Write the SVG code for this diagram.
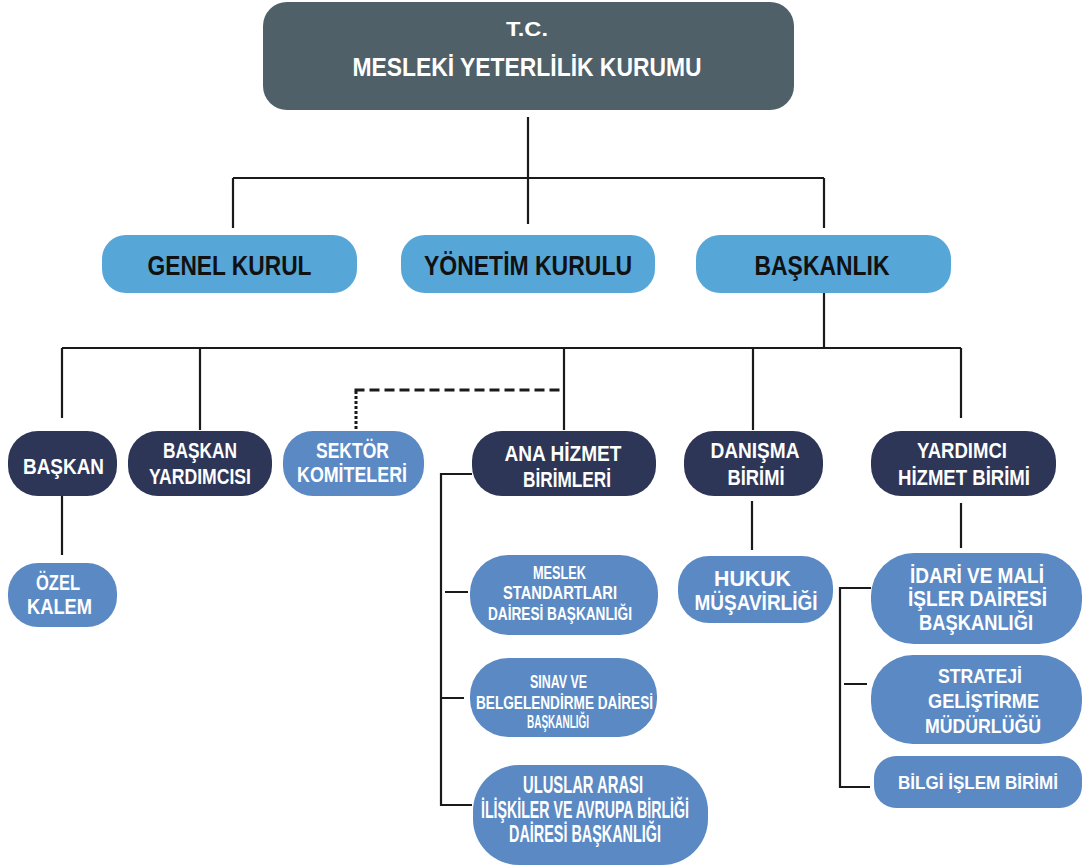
<svg xmlns="http://www.w3.org/2000/svg" width="1086" height="867" viewBox="0 0 1086 867">
<style>
.bg{fill:#ffffff}
.top{fill:#4f6069}
.l2{fill:#57a6d8}
.nav{fill:#2e3658}
.mb{fill:#5b89c4}
.t{font-family:"Liberation Sans",Arial,sans-serif;font-weight:bold;text-anchor:middle}
.w{fill:#ffffff}
.k{fill:#111111}
.ln{fill:none;stroke:#1a1a1a;stroke-width:2.2}
.dash{fill:none;stroke:#1a1a1a;stroke-width:3;stroke-dasharray:10 5}
.dot{fill:none;stroke:#1a1a1a;stroke-width:3;stroke-dasharray:3 2}
</style>
<rect class="bg" x="0" y="0" width="1086" height="867"/>
<g id="connectors">
<path class="ln" d="M528 117V224M233 178H824M233 178V228M824 178V228"/>
<path class="ln" d="M824 293V348M62 348H961M62 348V418M200 348V430M564 348V430M753 348V430M961 348V418"/>
<path class="dot" d="M356 429V390"/>
<path class="dash" d="M354.5 390H560"/>
<path class="ln" d="M62 496V555"/>
<path class="ln" d="M472 474H441V805H472M445 592H468M441 698H464"/>
<path class="ln" d="M752 501V550"/>
<path class="ln" d="M961 503V548"/>
<path class="ln" d="M871 588H840V787H870M844 684H867"/>
</g>
<g id="kurum">
<rect class="top" x="263" y="2" width="531" height="108" rx="24"/>
<text class="t w" x="527" y="36" font-size="21" textLength="42" lengthAdjust="spacingAndGlyphs">T.C.</text>
<text class="t w" x="527" y="76" font-size="25" textLength="349" lengthAdjust="spacingAndGlyphs">MESLEKİ YETERLİLİK KURUMU</text>
</g>
<g id="genel-kurul">
<rect class="l2" x="102" y="235" width="255" height="58" rx="24"/>
<text class="t k" x="229.5" y="275" font-size="28" textLength="164" lengthAdjust="spacingAndGlyphs">GENEL KURUL</text>
</g>
<g id="yonetim-kurulu">
<rect class="l2" x="401" y="235" width="254" height="58" rx="24"/>
<text class="t k" x="528" y="275" font-size="28" textLength="208" lengthAdjust="spacingAndGlyphs">YÖNETİM KURULU</text>
</g>
<g id="baskanlik">
<rect class="l2" x="696" y="235" width="255" height="58" rx="24"/>
<text class="t k" x="822" y="275" font-size="28" textLength="135" lengthAdjust="spacingAndGlyphs">BAŞKANLIK</text>
</g>
<g id="baskan">
<rect class="nav" x="8" y="431" width="109" height="65" rx="30"/>
<text class="t w" x="63.5" y="474" font-size="22" textLength="81" lengthAdjust="spacingAndGlyphs">BAŞKAN</text>
</g>
<g id="baskan-yardimcisi">
<rect class="nav" x="128" y="431" width="144" height="65" rx="30"/>
<text class="t w" x="200" y="458" font-size="22" textLength="74" lengthAdjust="spacingAndGlyphs">BAŞKAN</text>
<text class="t w" x="200" y="484" font-size="22" textLength="102" lengthAdjust="spacingAndGlyphs">YARDIMCISI</text>
</g>
<g id="sektor-komiteleri">
<rect class="mb" x="283" y="431" width="141" height="65" rx="30"/>
<text class="t w" x="352.5" y="458" font-size="22" textLength="73" lengthAdjust="spacingAndGlyphs">SEKTÖR</text>
<text class="t w" x="352" y="482" font-size="22" textLength="110" lengthAdjust="spacingAndGlyphs">KOMİTELERİ</text>
</g>
<g id="ana-hizmet">
<rect class="nav" x="472" y="431" width="184" height="65" rx="30"/>
<text class="t w" x="563" y="461" font-size="22" textLength="117" lengthAdjust="spacingAndGlyphs">ANA HİZMET</text>
<text class="t w" x="567" y="487" font-size="22" textLength="88" lengthAdjust="spacingAndGlyphs">BİRİMLERİ</text>
</g>
<g id="danisma">
<rect class="nav" x="684" y="431" width="139" height="65" rx="30"/>
<text class="t w" x="755" y="458" font-size="22" textLength="89" lengthAdjust="spacingAndGlyphs">DANIŞMA</text>
<text class="t w" x="756" y="485" font-size="22" textLength="57" lengthAdjust="spacingAndGlyphs">BİRİMİ</text>
</g>
<g id="yardimci-hizmet">
<rect class="nav" x="871" y="431" width="185" height="65" rx="30"/>
<text class="t w" x="962" y="458" font-size="22" textLength="90" lengthAdjust="spacingAndGlyphs">YARDIMCI</text>
<text class="t w" x="964" y="485" font-size="22" textLength="132" lengthAdjust="spacingAndGlyphs">HİZMET BİRİMİ</text>
</g>
<g id="ozel-kalem">
<rect class="mb" x="8" y="563" width="109" height="64" rx="30"/>
<text class="t w" x="58" y="590" font-size="22" textLength="44" lengthAdjust="spacingAndGlyphs">ÖZEL</text>
<text class="t w" x="59.5" y="614" font-size="22" textLength="65" lengthAdjust="spacingAndGlyphs">KALEM</text>
</g>
<g id="meslek-standartlari">
<rect class="mb" x="470" y="555" width="188" height="80" rx="38"/>
<text class="t w" x="559.5" y="579" font-size="19" textLength="53" lengthAdjust="spacingAndGlyphs">MESLEK</text>
<text class="t w" x="560" y="599" font-size="19" textLength="114" lengthAdjust="spacingAndGlyphs">STANDARTLARI</text>
<text class="t w" x="560" y="620" font-size="19" textLength="144" lengthAdjust="spacingAndGlyphs">DAİRESİ BAŞKANLIĞI</text>
</g>
<g id="sinav-belgelendirme">
<rect class="mb" x="470" y="658" width="187" height="79" rx="38"/>
<text class="t w" x="558.5" y="688" font-size="18" textLength="57" lengthAdjust="spacingAndGlyphs">SINAV VE</text>
<text class="t w" x="564.5" y="709" font-size="18" textLength="177" lengthAdjust="spacingAndGlyphs">BELGELENDİRME DAİRESİ</text>
<text class="t w" x="558" y="728" font-size="18" textLength="62" lengthAdjust="spacingAndGlyphs">BAŞKANLIĞI</text>
</g>
<g id="uluslar-arasi">
<rect class="mb" x="473" y="765" width="235" height="100" rx="46"/>
<text class="t w" x="583" y="793" font-size="23" textLength="120" lengthAdjust="spacingAndGlyphs">ULUSLAR ARASI</text>
<text class="t w" x="585" y="818" font-size="23" textLength="208" lengthAdjust="spacingAndGlyphs">İLİŞKİLER VE AVRUPA BİRLİĞİ</text>
<text class="t w" x="585" y="842" font-size="23" textLength="152" lengthAdjust="spacingAndGlyphs">DAİRESİ BAŞKANLIĞI</text>
</g>
<g id="hukuk-musavirligi">
<rect class="mb" x="678" y="556" width="155" height="67" rx="31"/>
<text class="t w" x="752.5" y="586" font-size="22" textLength="77" lengthAdjust="spacingAndGlyphs">HUKUK</text>
<text class="t w" x="756" y="610" font-size="22" textLength="123" lengthAdjust="spacingAndGlyphs">MÜŞAVİRLİĞİ</text>
</g>
<g id="idari-mali">
<rect class="mb" x="871" y="553" width="211" height="91" rx="43"/>
<text class="t w" x="977" y="583" font-size="22" textLength="134" lengthAdjust="spacingAndGlyphs">İDARİ VE MALİ</text>
<text class="t w" x="977.5" y="606" font-size="22" textLength="139" lengthAdjust="spacingAndGlyphs">İŞLER DAİRESİ</text>
<text class="t w" x="976" y="630" font-size="22" textLength="114" lengthAdjust="spacingAndGlyphs">BAŞKANLIĞI</text>
</g>
<g id="strateji-gelistirme">
<rect class="mb" x="871" y="655" width="211" height="89" rx="42"/>
<text class="t w" x="980" y="683" font-size="21" textLength="84" lengthAdjust="spacingAndGlyphs">STRATEJİ</text>
<text class="t w" x="983.5" y="708" font-size="21" textLength="111" lengthAdjust="spacingAndGlyphs">GELİŞTİRME</text>
<text class="t w" x="983" y="733" font-size="21" textLength="116" lengthAdjust="spacingAndGlyphs">MÜDÜRLÜĞÜ</text>
</g>
<g id="bilgi-islem">
<rect class="mb" x="874" y="756" width="208" height="52" rx="22"/>
<text class="t w" x="978" y="789" font-size="19" textLength="160" lengthAdjust="spacingAndGlyphs">BİLGİ İŞLEM BİRİMİ</text>
</g>
</svg>
